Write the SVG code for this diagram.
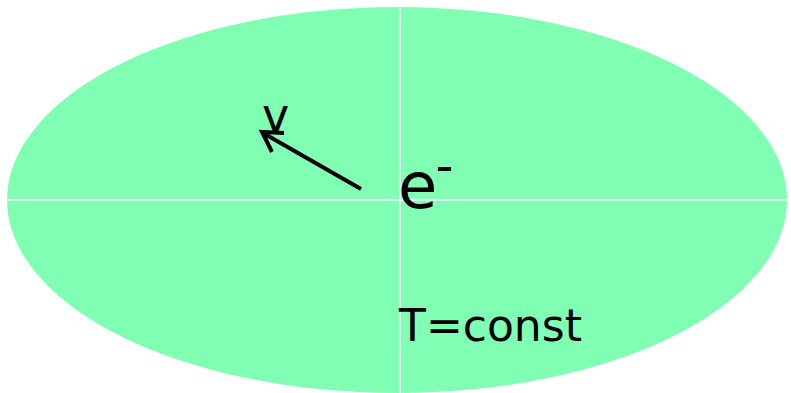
<svg xmlns="http://www.w3.org/2000/svg" width="791" height="393" viewBox="0 0 791 393">
<style>
.t{font-family:"DejaVu Sans",Verdana,sans-serif;fill:#000}
.ax{stroke:#fff;stroke-width:1.5;fill:none}
.ar{stroke:#000;stroke-width:4;fill:none}
</style>
<rect width="791" height="393" fill="#fff"/>
<g id="field">
<ellipse cx="397" cy="200" rx="390" ry="193" fill="#80FFB4"/>
<line class="ax" x1="7" y1="200" x2="787" y2="200"/>
<line class="ax" x1="400" y1="7" x2="400" y2="393"/>
</g>
<g id="connectors">
<line class="ar" x1="361" y1="189" x2="263" y2="133"/>
<polyline class="ar" points="284,133 262,132 272,152"/>
</g>
<g id="labels">
<text class="t" x="262" y="131" font-size="46">v</text>
<text class="t" x="398" y="208" font-size="64">e<tspan font-size="50" dx="-2" dy="-25">-</tspan></text>
<text class="t" x="399" y="341" font-size="44">T=const</text>
</g>
</svg>
